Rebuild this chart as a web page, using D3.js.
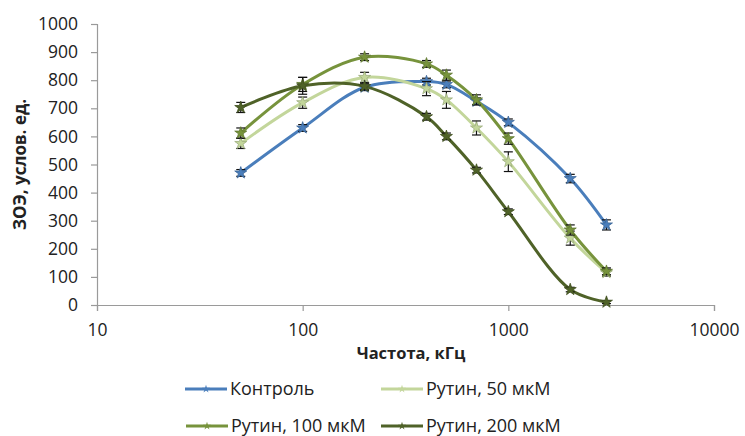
<!DOCTYPE html>
<html>
<head>
<meta charset="utf-8">
<script src="https://cdn.jsdelivr.net/npm/d3@7"></script>
<style>
  body { margin: 0; background: #fff; }
  text { font-family: "Open Sans", "Noto Sans", sans-serif; fill: #222; }
</style>
</head>
<body>
<script>
// frequencies, kHz
var freqs = [50, 100, 200, 400, 500, 700, 1000, 2000, 3000];

var control  = [470, 630, 775, 795, 785, 725, 650, 450, 285];
var rutin50  = [575, 720, 810, 770, 730, 630, 510, 238, 115];
var rutin100 = [612, 785, 882, 858, 818, 730, 592, 267, 120];
var rutin200 = [703, 780, 778, 670, 600, 480, 332, 55, 10];

var errControl  = [12, 12, 12, 12, 12, 12, 12, 15, 18];
var err50       = [18, 20, 18, 25, 30, 25, 35, 25, 12];
var err100      = [18, 25, 12, 12, 18, 18, 20, 18, 12];
var err200      = [18, 30, 12, 12, 12, 10, 10, 8, 5];

var seriesNames = ["Контроль", "Рутин, 50 мкМ", "Рутин, 100 мкМ", "Рутин, 200 мкМ"];
var colours = ["#4a7ebb", "#c3d69b", "#77933c", "#4f6228"];

var xTicks = [10, 100, 1000, 10000];
var yTicks = [0, 100, 200, 300, 400, 500, 600, 700, 800, 900, 1000];

var width = 745, height = 436;
var margin = {left: 97, right: 31, top: 24, bottom: 131};

var svg = d3.select("body").append("svg")
  .attr("width", width)
  .attr("height", height);

var x = d3.scaleLog()
  .domain([10, 10000])
  .range([margin.left, width - margin.right]);

var y = d3.scaleLinear()
  .domain([0, 1000])
  .range([height - margin.bottom, margin.top]);

// y axis
var yAxis = svg.append("g")
  .attr("transform", "translate(" + margin.left + ",0)")
  .call(d3.axisLeft(y).tickValues(yTicks).tickSize(6).tickPadding(13).tickFormat(d3.format("d")));

// x axis
var xAxis = svg.append("g")
  .attr("transform", "translate(0," + y(0) + ")")
  .call(d3.axisBottom(x).tickValues(xTicks).tickSize(6).tickPadding(13).tickFormat(d3.format("d")));

[yAxis, xAxis].forEach(function(a) {
  a.select(".domain").attr("stroke", "#9a9a9a").attr("stroke-width", 1.2);
  a.selectAll(".tick line").attr("stroke", "#9a9a9a").attr("stroke-width", 1.2);
  a.selectAll(".tick text")
    .style("font-family", '"Open Sans", sans-serif')
    .style("font-size", "17.5px")
    .attr("fill", "#222");
});

// axis titles
svg.append("text")
  .attr("x", 411)
  .attr("y", 359)
  .attr("text-anchor", "middle")
  .style("font-size", "16.5px")
  .style("font-weight", "bold")
  .text("Частота, кГц");

svg.append("text")
  .attr("transform", "translate(26," + y(500) + ") rotate(-90)")
  .attr("text-anchor", "middle")
  .style("font-size", "17px")
  .style("font-weight", "bold")
  .text("ЗОЭ, услов. ед.");

var allSeries = [control, rutin50, rutin100, rutin200];
var allErr = [errControl, err50, err100, err200];

var line = d3.line()
  .x(function(d) { return x(d.f); })
  .y(function(d) { return y(d.v); })
  .curve(d3.curveCatmullRom.alpha(0.5));

var star = d3.symbol().type(d3.symbolStar).size(45);

allSeries.forEach(function(vals, i) {
  var pts = freqs.map(function(f, j) { return {f: f, v: vals[j], e: allErr[i][j]}; });
  var g = svg.append("g").attr("class", "series");

  g.append("path")
    .datum(pts)
    .attr("d", line)
    .attr("fill", "none")
    .attr("stroke", colours[i])
    .attr("stroke-width", 3);

  // error bars
  var eb = g.selectAll(".err")
    .data(pts)
    .enter().append("g")
      .attr("class", "err")
      .attr("stroke", "#111")
      .attr("stroke-width", 1.2);
  eb.append("line")
    .attr("x1", function(d) { return x(d.f); })
    .attr("x2", function(d) { return x(d.f); })
    .attr("y1", function(d) { return y(d.v - d.e); })
    .attr("y2", function(d) { return y(d.v + d.e); });
  [-1, 1].forEach(function(s) {
    eb.append("line")
      .attr("x1", function(d) { return x(d.f) - 4.5; })
      .attr("x2", function(d) { return x(d.f) + 4.5; })
      .attr("y1", function(d) { return y(d.v + s * d.e); })
      .attr("y2", function(d) { return y(d.v + s * d.e); });
  });

  g.selectAll(".mark")
    .data(pts)
    .enter().append("path")
      .attr("class", "mark")
      .attr("d", star)
      .attr("transform", function(d) { return "translate(" + x(d.f) + "," + y(d.v) + ")"; })
      .attr("fill", colours[i])
      .attr("stroke", d3.color(colours[i]).darker(0.6))
      .attr("stroke-width", 0.8);
});

// legend
var legendPos = [[185, 389], [381, 389], [186, 426], [381, 426]];
seriesNames.forEach(function(name, i) {
  var lg = svg.append("g")
    .attr("transform", "translate(" + legendPos[i][0] + "," + legendPos[i][1] + ")");
  lg.append("line")
    .attr("x1", 0).attr("x2", 42)
    .attr("y1", 0).attr("y2", 0)
    .attr("stroke", colours[i])
    .attr("stroke-width", 3);
  lg.append("path")
    .attr("d", d3.symbol().type(d3.symbolStar).size(20))
    .attr("transform", "translate(21,0)")
    .attr("fill", colours[i]);
  lg.append("text")
    .attr("x", 45)
    .attr("y", 6)
    .style("font-size", "18px")
    .text(name);
});
</script>
</body>
</html>
